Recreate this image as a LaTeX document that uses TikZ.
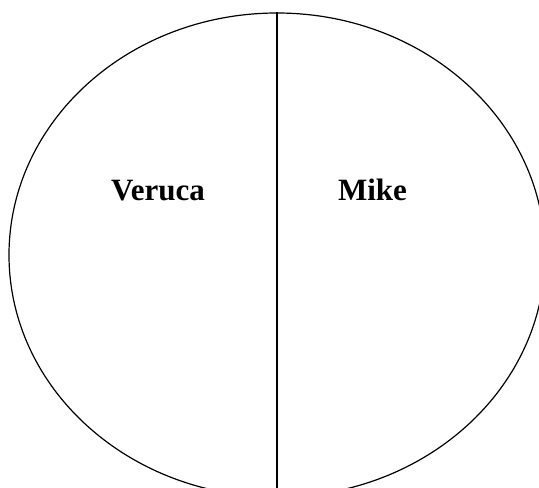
\documentclass[tikz,border=0pt]{standalone}
\usepackage{fontspec}
\setmainfont{Liberation Serif}
\usetikzlibrary{shapes.geometric}
\begin{document}
\begin{tikzpicture}[x=1pt,y=-1pt,
  outline/.style={draw=black, line width=1.2pt, ellipse, inner sep=0pt, minimum width=536pt, minimum height=484pt},
  divider/.style={draw=black, line width=1.3pt},
  label/.style={font=\fontsize{31}{36}\selectfont\bfseries, anchor=base, inner sep=0pt}]
\useasboundingbox (0,0) rectangle (539,488);
\clip (0,0) rectangle (539,488);
\fill[white] (0,0) rectangle (539,488);
\node[outline] (oval) at (277,255) {};
\coordinate (bottom) at (277,488);
\draw[divider] (oval.north) -- (bottom);
\node[label] (veruca) at (158,200.7) {Veruca};
\node[label] (mike) at (372.5,200.7) {Mike};
\end{tikzpicture}
\end{document}
